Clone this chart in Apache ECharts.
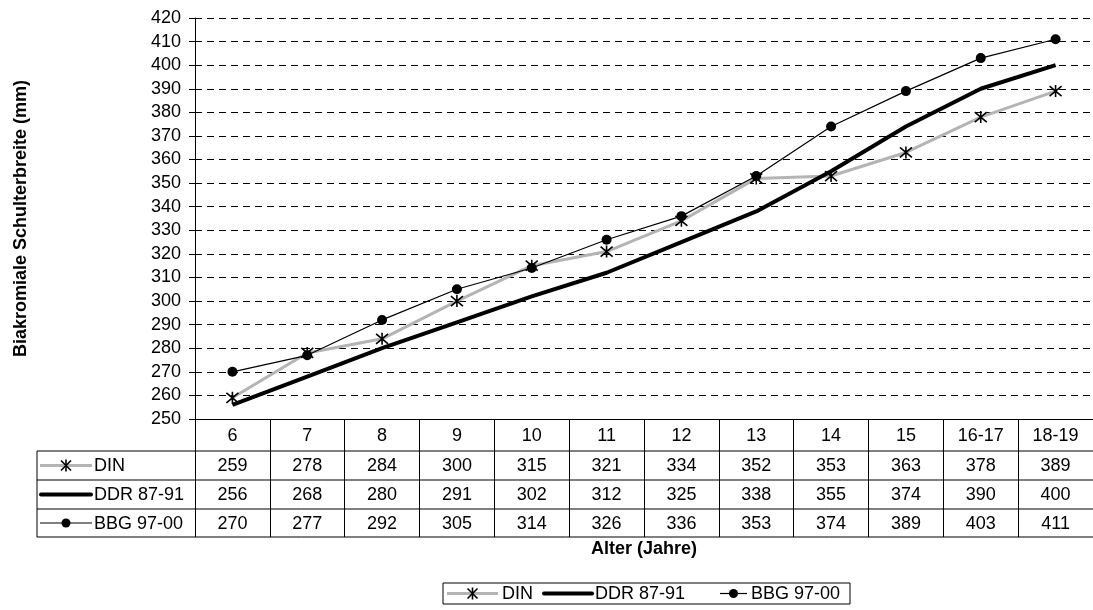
<!DOCTYPE html>
<html>
<head>
<meta charset="utf-8">
<script src="https://cdn.jsdelivr.net/npm/echarts@6/dist/echarts.min.js"></script>
<style>
html,body{margin:0;padding:0;background:#fff;}
#chart{width:1093px;height:610px;}
</style>
</head>
<body>
<div id="chart"></div>
<script>
// ---- data ----
const categories = ['6', '7', '8', '9', '10', '11', '12', '13', '14', '15', '16-17', '18-19'];
const seriesNames = ['DIN', 'DDR 87-91', 'BBG 97-00'];
const dinValues = [259, 278, 284, 300, 315, 321, 334, 352, 353, 363, 378, 389];
const ddrValues = [256, 268, 280, 291, 302, 312, 325, 338, 355, 374, 390, 400];
const bbgValues = [270, 277, 292, 305, 314, 326, 336, 353, 374, 389, 403, 411];
const yMin = 250, yMax = 420, yStep = 10;
const xTitle = 'Alter (Jahre)';
const yTitle = 'Biakromiale Schulterbreite (mm)';

// ---- layout ----
const FONT = 'Liberation Sans, Arial, sans-serif';
const FS = 18;
const TFS = 18;
const gridLeft = 195, gridTop = 18, gridBottomY = 419, plotWidth = 900;
const tableLeft = 37;
const rowLines = [451, 480, 509, 537];
const asteriskPath = 'path://M0,0L10,10M10,0L0,10M5,-1L5,11';
const DIN_GRAY = '#b4b4b4';

const chart = echarts.init(document.getElementById('chart'), null, {renderer: 'canvas'});

const option = {
  backgroundColor: '#fff',
  animation: false,
  textStyle: {fontFamily: FONT, color: '#000'},
  grid: {left: gridLeft, top: gridTop, width: plotWidth, height: gridBottomY - gridTop, containLabel: false},
  legend: {show: false, data: seriesNames},
  xAxis: {
    type: 'category',
    data: categories,
    boundaryGap: true,
    name: xTitle,
    nameLocation: 'middle',
    nameGap: 121,
    nameTextStyle: {fontSize: TFS, fontWeight: 'bold', color: '#000', fontFamily: FONT},
    axisLine: {show: true, lineStyle: {color: '#000', width: 1}},
    axisTick: {show: true, length: 118, lineStyle: {color: '#000', width: 1}},
    axisLabel: {fontSize: FS, color: '#000', margin: 8, fontFamily: FONT, interval: 0},
    splitLine: {show: false}
  },
  yAxis: {
    type: 'value',
    min: yMin, max: yMax, interval: yStep,
    name: yTitle,
    nameLocation: 'middle',
    nameGap: 165,
    nameTextStyle: {fontSize: TFS, fontWeight: 'bold', color: '#000', fontFamily: FONT},
    axisLine: {show: true, lineStyle: {color: '#000', width: 1}},
    axisTick: {show: true, length: 6, lineStyle: {color: '#000'}},
    axisLabel: {fontSize: FS, color: '#000', margin: 14, fontFamily: FONT},
    splitLine: {show: true, lineStyle: {color: '#000', width: 1, type: [7, 5]}}
  },
  series: [
    {
      name: seriesNames[0], type: 'line', data: dinValues,
      symbol: asteriskPath, symbolSize: 12,
      itemStyle: {color: 'rgba(0,0,0,0)', borderColor: '#000', borderWidth: 1.6},
      lineStyle: {color: DIN_GRAY, width: 3},
      z: 2
    },
    {
      name: seriesNames[1], type: 'line', data: ddrValues,
      symbol: 'none',
      itemStyle: {color: '#000'},
      lineStyle: {color: '#000', width: 4},
      z: 3
    },
    {
      name: seriesNames[2], type: 'line', data: bbgValues,
      symbol: 'circle', symbolSize: 10,
      itemStyle: {color: '#000'},
      lineStyle: {color: '#000', width: 1.2},
      z: 4
    }
  ]
};
chart.setOption(option);

// ---- key drawing helper (used in table and legend) ----
function keyElements(r, x1, x2, cy) {
  const els = [];
  const kc = (x1 + x2) / 2;
  if (r === 0) {
    els.push({type: 'line', shape: {x1: x1, y1: cy, x2: x2, y2: cy}, style: {stroke: DIN_GRAY, lineWidth: 3}});
    els.push({type: 'line', shape: {x1: kc - 5, y1: cy - 5, x2: kc + 5, y2: cy + 5}, style: {stroke: '#000', lineWidth: 1.6}});
    els.push({type: 'line', shape: {x1: kc + 5, y1: cy - 5, x2: kc - 5, y2: cy + 5}, style: {stroke: '#000', lineWidth: 1.6}});
    els.push({type: 'line', shape: {x1: kc, y1: cy - 6, x2: kc, y2: cy + 6}, style: {stroke: '#000', lineWidth: 1.6}});
  } else if (r === 1) {
    els.push({type: 'line', shape: {x1: x1 + 1, y1: cy, x2: x2 - 1, y2: cy}, style: {stroke: '#000', lineWidth: 4, lineCap: 'round'}});
  } else {
    els.push({type: 'line', shape: {x1: x1, y1: cy, x2: x2, y2: cy}, style: {stroke: '#000', lineWidth: 1.2}});
    els.push({type: 'circle', shape: {cx: kc, cy: cy, r: 4.5}, style: {fill: '#000'}});
  }
  return els;
}

// ---- data table under the axis + legend box ----
function buildExtras() {
  const els = [];
  const right = gridLeft + plotWidth;
  els.push({type: 'line', shape: {x1: tableLeft, y1: rowLines[0], x2: tableLeft, y2: rowLines[3]}, style: {stroke: '#000', lineWidth: 1}});
  rowLines.forEach(y => {
    els.push({type: 'line', shape: {x1: tableLeft, y1: y, x2: right, y2: y}, style: {stroke: '#000', lineWidth: 1}});
  });
  const rows = [dinValues, ddrValues, bbgValues];
  rows.forEach((vals, r) => {
    const cy = (rowLines[r] + rowLines[r + 1]) / 2;
    const kx1 = tableLeft + 3, kx2 = tableLeft + 55;
    keyElements(r, kx1, kx2, cy).forEach(e => els.push(e));
    els.push({type: 'text', x: kx2 + 2, y: cy + 1, style: {text: seriesNames[r], font: FS + 'px ' + FONT, fill: '#000', align: 'left', verticalAlign: 'middle'}});
    vals.forEach((v, i) => {
      const px = chart.convertToPixel({xAxisIndex: 0}, categories[i]);
      els.push({type: 'text', x: px, y: cy + 1, style: {text: String(v), font: FS + 'px ' + FONT, fill: '#000', align: 'center', verticalAlign: 'middle'}});
    });
  });

  // legend box
  const lgTop = 583, lgBottom = 604, lgLeft = 443, lgRight = 850;
  const lgCy = (lgTop + lgBottom) / 2;
  els.push({type: 'rect', shape: {x: lgLeft, y: lgTop, width: lgRight - lgLeft, height: lgBottom - lgTop}, style: {fill: 'none', stroke: '#000', lineWidth: 1}});
  const keyStarts = [[447, 498, 502], [543, 593, 595], [720, 747, 751]];
  keyStarts.forEach((k, r) => {
    keyElements(r, k[0], k[1], lgCy).forEach(e => els.push(e));
    els.push({type: 'text', x: k[2], y: lgCy + 1, style: {text: seriesNames[r], font: FS + 'px ' + FONT, fill: '#000', align: 'left', verticalAlign: 'middle'}});
  });

  chart.setOption({graphic: {elements: els}});
}
buildExtras();
</script>
</body>
</html>
